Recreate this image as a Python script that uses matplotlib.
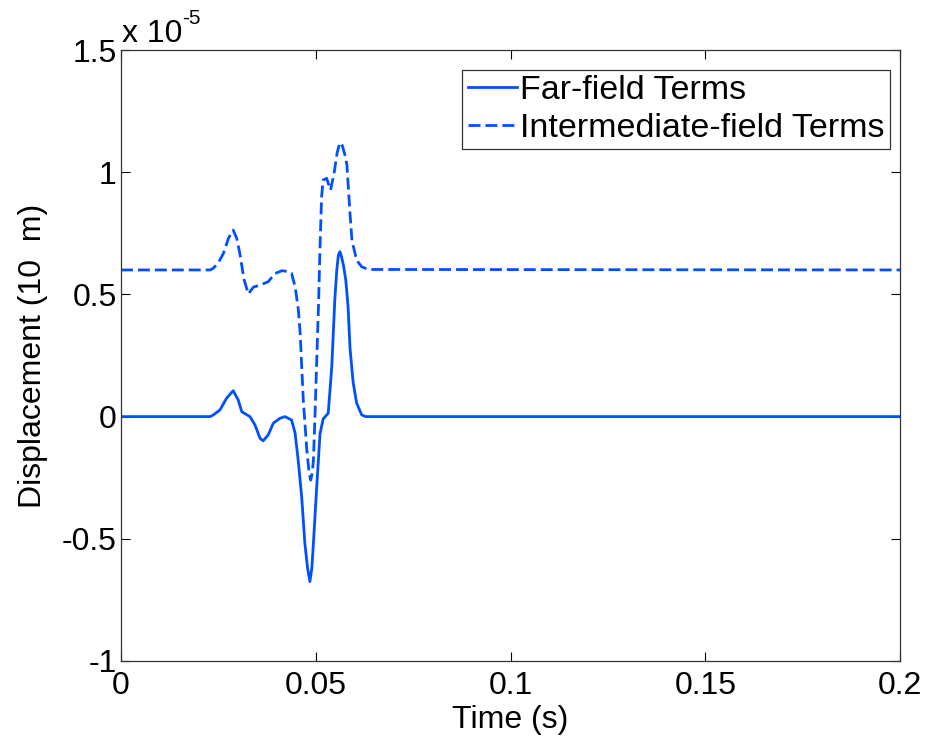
import numpy as np
import matplotlib
matplotlib.use("Agg")
import matplotlib.pyplot as plt


# -----------------------------
# Data (displacement in units of 1e-5 m)
# -----------------------------
far_t = [0.0, 0.0229, 0.0237, 0.0254, 0.0271, 0.0288, 0.0301, 0.0310, 0.0331,
         0.0344, 0.0357, 0.0365, 0.0378, 0.0391, 0.0408, 0.0421, 0.0438,
         0.0447, 0.0455, 0.0464, 0.0472, 0.0479, 0.0485, 0.0490, 0.0494,
         0.0502, 0.0511, 0.0519, 0.0532, 0.0541, 0.0549, 0.0554, 0.0558,
         0.0562, 0.0566, 0.0571, 0.0577, 0.0583, 0.0588, 0.0596, 0.0605,
         0.0618, 0.0628, 0.2]
far_disp = [0.0, 0.0, 0.007, 0.027, 0.075, 0.106, 0.068, 0.02, 0.0,
            -0.034, -0.089, -0.099, -0.075, -0.027, -0.007, 0.0, -0.014,
            -0.068, -0.18, -0.33, -0.518, -0.62, -0.675, -0.62, -0.518,
            -0.30, -0.07, -0.01, 0.014, 0.20, 0.48, 0.60, 0.66,
            0.675, 0.655, 0.62, 0.56, 0.45, 0.28, 0.14, 0.055,
            0.007, 0.0, 0.0]

inter_t = [0.0, 0.0229, 0.0237, 0.0250, 0.0263, 0.0276, 0.0288, 0.0297,
           0.0305, 0.0316, 0.0327, 0.0340, 0.0357, 0.0378, 0.0395, 0.0413,
           0.0426, 0.0438, 0.0447, 0.0455, 0.0460, 0.0464, 0.0468, 0.0477,
           0.0483, 0.0487, 0.0491, 0.0494, 0.0498, 0.0502, 0.0507, 0.0511,
           0.0515, 0.0519, 0.0528, 0.0538, 0.0547, 0.0555, 0.0562, 0.0568,
           0.0575, 0.0580, 0.0588, 0.0593, 0.0605, 0.0618, 0.0635, 0.2]
inter_disp = [0.6, 0.6, 0.607, 0.63, 0.668, 0.73, 0.763, 0.73,
              0.668, 0.56, 0.502, 0.53, 0.538, 0.552, 0.585, 0.597,
              0.594, 0.586, 0.531, 0.443, 0.341, 0.204, 0.068, -0.136,
              -0.23, -0.26, -0.23, -0.178, 0.0, 0.204, 0.45, 0.695,
              0.90, 0.968, 0.975, 0.927, 0.995, 1.08, 1.121, 1.11,
              1.07, 1.03, 0.83, 0.72, 0.64, 0.613, 0.602, 0.6]

series_labels = ["Far-field Terms", "Intermediate-field Terms"]

x_ticks = [0, 0.05, 0.1, 0.15, 0.2]
x_tick_labels = ["0", "0.05", "0.1", "0.15", "0.2"]
y_ticks = [-1, -0.5, 0, 0.5, 1, 1.5]
y_tick_labels = ["-1", "-0.5", "0", "0.5", "1", "1.5"]


# -----------------------------
# Plot
# -----------------------------
def main():

    plt.rcParams["font.family"] = ["Liberation Sans", "DejaVu Sans"]
    blue = "#0050ff"
    fs = 23

    fig = plt.figure(figsize=(9.25, 7.42), dpi=100)
    ax = fig.add_axes([121/925, 1-661/742, 779/925, 611/742])

    ax.plot(far_t, far_disp, color=blue, lw=2.0, label=series_labels[0])
    ax.plot(inter_t, inter_disp, color=blue, lw=2.0, dashes=(4.3, 1.8),
            label=series_labels[1])

    ax.set_xlim(0, 0.2)
    ax.set_ylim(-1, 1.5)
    ax.set_xticks(x_ticks)
    ax.set_xticklabels(x_tick_labels)
    ax.set_yticks(y_ticks)
    ax.set_yticklabels(y_tick_labels)

    ax.tick_params(direction="in", length=6.5, width=0.8, labelsize=fs,
                   top=True, right=True, colors="black")
    ax.tick_params(axis="x", pad=7)
    ax.tick_params(axis="y", pad=3)
    for sp in ax.spines.values():
        sp.set_linewidth(0.9)
        sp.set_color("#333333")

    ax.set_xlabel("Time (s)", fontsize=fs)
    ax.xaxis.set_label_coords(0.5, -0.072)
    ax.set_ylabel("Displacement (10  m)", fontsize=fs)
    ax.yaxis.set_label_coords(-0.094, 0.5)

    # exponent note at the top of the y axis
    fig.text(122/925, 1-42/742, "x 10", fontsize=fs, va="baseline")
    fig.text(182/925, 1-24/742, "-5", fontsize=15, va="baseline")

    leg = ax.legend(loc="upper right", bbox_to_anchor=(0.987, 0.967),
                    borderaxespad=0, fontsize=24.5, frameon=True,
                    fancybox=False, handlelength=1.45, handletextpad=0.1,
                    labelspacing=0.2, borderpad=0.15)
    leg.get_frame().set_edgecolor("black")
    leg.get_frame().set_linewidth(0.9)

    fig.savefig("out.png", dpi=100)


if __name__ == "__main__":
    main()
